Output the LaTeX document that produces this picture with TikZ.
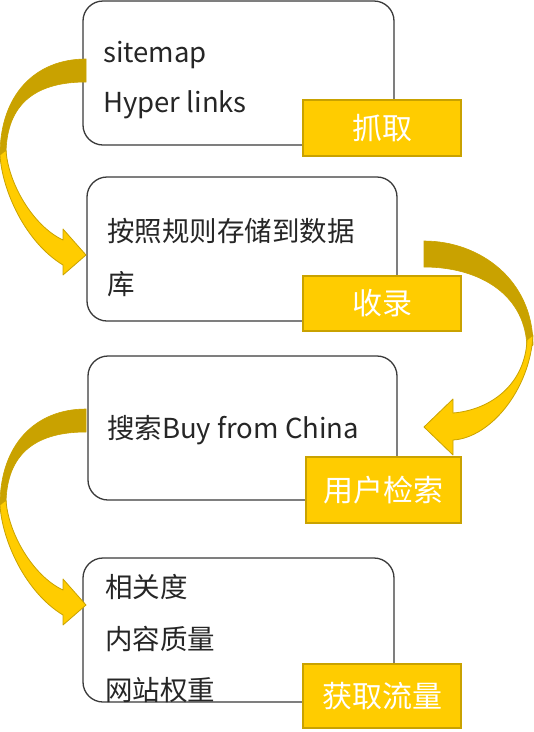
\documentclass[tikz,border=0pt]{standalone}
\usepackage{fontspec}
\setmainfont{Noto Sans CJK SC}
\usepackage{tikz}
\usepackage{xcolor}
\definecolor{gold}{HTML}{FFCC00}
\definecolor{darkgold}{HTML}{C9A200}
\definecolor{boxgray}{HTML}{3A3A3A}

\tikzset{
  box/.style={draw=boxgray, line width=1.3pt, rounded corners=20pt, fill=white,
    minimum width=311pt, minimum height=144pt},
  tag/.style={draw=darkgold, line width=1.3pt, fill=gold, text=white,
    minimum width=158pt, minimum height=56pt, inner sep=0pt,
    font=\fontsize{30}{36}\selectfont},
  txt/.style={anchor=base west, inner sep=0pt, text=black!85,
    font=\fontsize{27.5}{33}\selectfont},
  back/.style={fill=darkgold, draw=darkgold, line width=0.6pt},
  front/.style={fill=gold, draw=darkgold, line width=0.8pt, line join=round}
}

\begin{document}
\begin{tikzpicture}[x=1pt, y=-1pt]
\useasboundingbox (0,0) rectangle (534,732);

\node[box] (box1) at (238.5,73) {};
\node[box, minimum width=310pt] (box2) at (242,249) {};
\node[box, minimum width=309pt] (box3) at (242.5,428) {};
\node[box] (box4) at (238.5,630) {};

% left arrows
\foreach \s in {0,350} {
  \fill[back] (86,59+\s) .. controls (35,59+\s) and (0,95+\s) .. (0,155+\s)
    -- (6,155+\s) .. controls (6,100+\s) and (40,82+\s) .. (86,82+\s) -- cycle;
  \filldraw[front] (6,150+\s) .. controls (8,183+\s) and (33,226+\s) .. (63,240+\s)
    -- (63,229+\s) -- (86,255+\s) -- (63,275+\s) -- (63,265+\s)
    .. controls (25,242+\s) and (2,190+\s) .. (0,155+\s) -- cycle;
}

% right arrow
\fill[back] (424,241) .. controls (480,241) and (533,280) .. (533,345)
  -- (527,350) .. controls (527,295) and (480,267) .. (424,267) -- cycle;
\filldraw[front] (527,340) .. controls (525,385) and (490,410) .. (453,413)
  -- (453,399) -- (424,427) -- (453,455) -- (453,440)
  .. controls (490,438) and (530,390) .. (533,335) -- cycle;

\node[txt] (s1) at (103,62) {sitemap};
\node[txt] (s2) at (103,112) {Hyper links};
\node[txt] (d1) at (107,241) {按照规则存储到数据};
\node[txt] (d2) at (107,294) {库};
\node[txt] (q1) at (107,438) {搜索Buy from China};
\node[txt] (r1) at (105,597) {相关度};
\node[txt] (r2) at (105,649) {内容质量};
\node[txt] (r3) at (105,700) {网站权重};

\node[tag] (tag1) at (382,128) {抓取};
\node[tag, minimum height=55pt] (tag2) at (382,303.5) {收录};
\node[tag, minimum width=155pt, minimum height=66pt] (tag3) at (383.5,490) {用户检索};
\node[tag, minimum height=64pt] (tag4) at (382,696) {获取流量};
\end{tikzpicture}
\end{document}
